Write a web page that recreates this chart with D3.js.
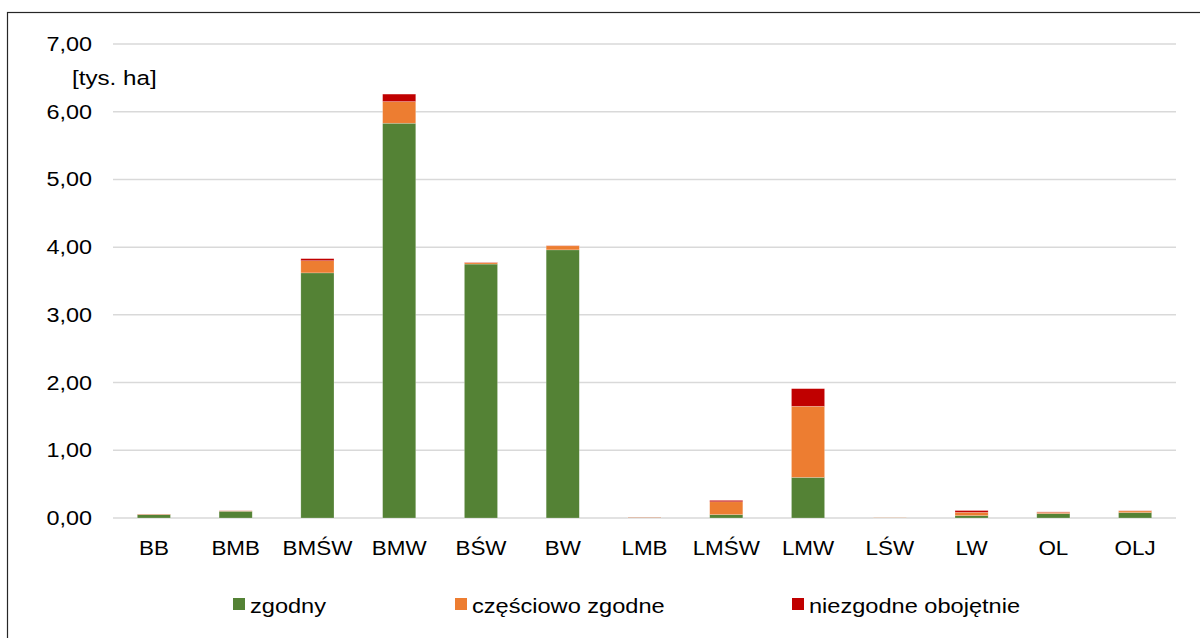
<!DOCTYPE html>
<html>
<head>
<meta charset="utf-8">
<title>Stacked bars</title>
<script src="https://d3js.org/d3.v7.min.js"></script>
<style>
  body { margin: 0; background: #fff; }
  svg text { font-family: "Liberation Sans", Arial, sans-serif; fill: #000; font-size: 19.5px; }
</style>
</head>
<body>
<script>
// data
var categories = ['BB', 'BMB', 'BMŚW', 'BMW', 'BŚW', 'BW', 'LMB', 'LMŚW', 'LMW', 'LŚW', 'LW', 'OL', 'OLJ'];
var zgodny     = [0.05, 0.10, 3.62, 5.83, 3.75, 3.96, 0.005, 0.05, 0.60, 0.003, 0.035, 0.065, 0.08];
var czesciowo  = [0.006, 0.005, 0.18, 0.32, 0.02, 0.06, 0.004, 0.19, 1.05, 0.003, 0.05, 0.02, 0.025];
var niezgodne  = [0.002, 0.002, 0.03, 0.11, 0.005, 0.003, 0.002, 0.02, 0.26, 0.001, 0.025, 0.005, 0.003];
var seriesNames = ['zgodny', 'częściowo zgodne', 'niezgodne obojętnie'];
var colors = ['#548235', '#ed7d31', '#c00000'];
var yTicks = [0, 1, 2, 3, 4, 5, 6, 7];

var outerWidth = 1200, outerHeight = 638;
var plot = {left: 113, right: 1176, top: 44, bottom: 518};
var stretch = 1.2;   // text in the original is a bit wide

var svg = d3.select('body').append('svg')
    .attr('width', outerWidth)
    .attr('height', outerHeight);

// outer frame (right and bottom edges fall outside the picture)
svg.append('rect')
   .attr('x', 7.5).attr('y', 12.5)
   .attr('width', 1220).attr('height', 700)
   .attr('fill', 'none')
   .attr('stroke', '#262626')
   .attr('stroke-width', 1.2);

var x = d3.scaleBand().domain(categories).range([plot.left, plot.right]).padding(0);
var y = d3.scaleLinear().domain([0, 7]).range([plot.bottom, plot.top]);
var barW = x.bandwidth() * 0.405;

function place(px, py, sx) {
  return 'translate(' + px + ',' + py + ') scale(' + (sx || stretch) + ',1)';
}

// gridlines
svg.append('g').selectAll('line')
   .data(yTicks)
   .enter().append('line')
   .attr('x1', plot.left).attr('x2', plot.right)
   .attr('y1', function(d) { return y(d); })
   .attr('y2', function(d) { return y(d); })
   .attr('stroke', '#d9d9d9')
   .attr('stroke-width', 1.5);

// y labels
var fmt = function(d) { return d3.format('.2f')(d).replace('.', ','); };
svg.append('g').selectAll('text')
   .data(yTicks)
   .enter().append('text')
   .attr('transform', function(d) { return place(92, y(d) + 7); })
   .attr('text-anchor', 'end')
   .text(fmt);

svg.append('text')
   .attr('transform', place(72, 85, 1.24))
   .text('[tys. ha]');

// stacked bars
var rows = categories.map(function(c, i) {
  return {cat: c, s0: zgodny[i], s1: czesciowo[i], s2: niezgodne[i]};
});
var stack = d3.stack().keys(['s0', 's1', 's2'])(rows);

svg.append('g').selectAll('g')
   .data(stack)
   .enter().append('g')
   .attr('fill', function(d, i) { return colors[i]; })
   .selectAll('rect')
   .data(function(d) { return d; })
   .enter().append('rect')
   .attr('x', function(d) { return x(d.data.cat) + (x.bandwidth() - barW) / 2; })
   .attr('y', function(d) { return y(d[1]); })
   .attr('width', barW)
   .attr('height', function(d) { return Math.max(0, y(d[0]) - y(d[1])); })
   .attr('stroke', '#ffffff')
   .attr('stroke-opacity', 0.35)
   .attr('stroke-width', 0.6);

// x labels
svg.append('g').selectAll('text')
   .data(categories)
   .enter().append('text')
   .attr('transform', function(d) { return place(x(d) + x.bandwidth() / 2, 555, 1.15); })
   .attr('text-anchor', 'middle')
   .text(function(d) { return d; });

// legend
var legendX = [233, 455, 792];
var legend = svg.append('g').selectAll('g')
   .data(seriesNames)
   .enter().append('g')
   .attr('transform', function(d, i) { return 'translate(' + legendX[i] + ',598)'; });

legend.append('rect')
   .attr('width', 12).attr('height', 12)
   .attr('fill', function(d, i) { return colors[i]; });

legend.append('text')
   .attr('transform', place(17, 15, 1.21))
   .text(function(d) { return d; });
</script>
</body>
</html>
